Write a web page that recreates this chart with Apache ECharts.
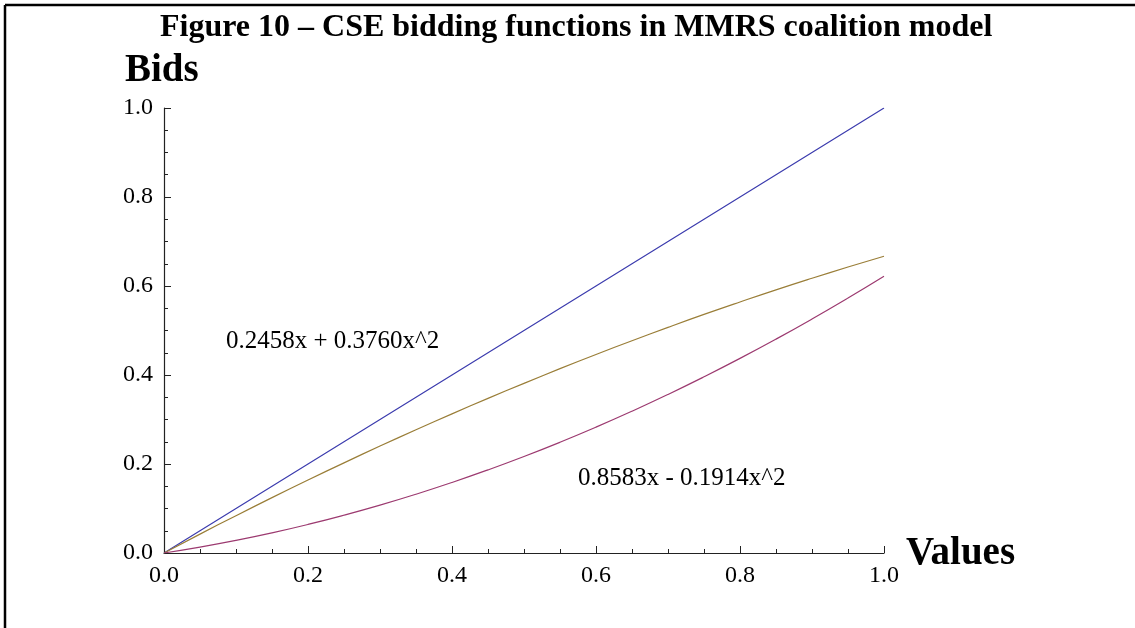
<!DOCTYPE html>
<html>
<head>
<meta charset="utf-8">
<title>CSE bidding functions</title>
<script src="https://cdn.jsdelivr.net/npm/echarts@6/dist/echarts.min.js"></script>
<style>
  html, body { margin: 0; padding: 0; background: #fff; }
  #chart { width: 1135px; height: 628px; }
</style>
</head>
<body>
<div id="chart"></div>
<script>
// Bidder values (x) and the bid each strategy submits at that value
const values = [0, 0.05, 0.1, 0.15, 0.2, 0.25, 0.3, 0.35, 0.4, 0.45, 0.5,
                0.55, 0.6, 0.65, 0.7, 0.75, 0.8, 0.85, 0.9, 0.95, 1.0];
// truthful bid, b = x
const bidsTruthful = [0, 0.05, 0.1, 0.15, 0.2, 0.25, 0.3, 0.35, 0.4, 0.45, 0.5,
                      0.55, 0.6, 0.65, 0.7, 0.75, 0.8, 0.85, 0.9, 0.95, 1.0];
// 0.8583x - 0.1914x^2
const bidsConcave = [0, 0.0424, 0.0839, 0.1244, 0.1640, 0.2026, 0.2403, 0.2770, 0.3127, 0.3475, 0.3813,
                     0.4142, 0.4461, 0.4770, 0.5070, 0.5361, 0.5641, 0.5913, 0.6174, 0.6426, 0.6669];
// 0.2458x + 0.3760x^2
const bidsConvex = [0, 0.0132, 0.0283, 0.0453, 0.0642, 0.0850, 0.1076, 0.1321, 0.1585, 0.1868, 0.2169,
                    0.2489, 0.2828, 0.3186, 0.3563, 0.3959, 0.4373, 0.4806, 0.5258, 0.5729, 0.6218];

const titleText = 'Figure 10 \u2013 CSE bidding functions in MMRS coalition model';
const yName = 'Bids';
const xName = 'Values';
const labelConvex = '0.2458x + 0.3760x^2';
const labelConcave = '0.8583x - 0.1914x^2';

const serif = '"Liberation Serif", "Times New Roman", serif';
const pair = arr => values.map((v, i) => [v, arr[i]]);

const chart = echarts.init(document.getElementById('chart'), null, { renderer: 'canvas' });

const axisCommon = {
  type: 'value',
  min: 0,
  max: 1,
  interval: 0.2,
  axisLine: { show: true, onZero: false, lineStyle: { color: '#222', width: 1.2 } },
  axisTick: { show: true, inside: true, length: 7, lineStyle: { color: '#222', width: 1 } },
  minorTick: { show: true, splitNumber: 4, length: 4, lineStyle: { color: '#222', width: 1 } },
  splitLine: { show: false },
  axisLabel: {
    color: '#000',
    fontFamily: serif,
    fontSize: 24,
    margin: 11,
    formatter: v => v.toFixed(1)
  }
};

chart.setOption({
  animation: false,
  backgroundColor: '#fff',
  grid: { left: 164, right: 251, top: 108, bottom: 75, containLabel: false },
  xAxis: Object.assign({}, axisCommon),
  yAxis: Object.assign({}, axisCommon),
  series: [
    {
      type: 'line', data: pair(bidsTruthful), showSymbol: false, smooth: false,
      lineStyle: { color: '#3c3cae', width: 1.2 }
    },
    {
      type: 'line', data: pair(bidsConcave), showSymbol: false, smooth: true,
      lineStyle: { color: '#9a7e38', width: 1.2 }
    },
    {
      type: 'line', data: pair(bidsConvex), showSymbol: false, smooth: true,
      lineStyle: { color: '#9c3a70', width: 1.2 }
    }
  ],
  graphic: [
    // frame edges
    { type: 'line', shape: { x1: 5, y1: 5, x2: 1135, y2: 5 }, style: { stroke: '#000', lineWidth: 2.5 } },
    { type: 'line', shape: { x1: 5, y1: 5, x2: 5, y2: 628 }, style: { stroke: '#000', lineWidth: 2.5 } },
    {
      type: 'text', left: 160, top: 12,
      style: { text: titleText, font: 'bold 32px ' + serif, fill: '#000' }
    },
    {
      type: 'text', left: 125, top: 51,
      style: { text: yName, font: 'bold 39px ' + serif, fill: '#000' }
    },
    {
      type: 'text', left: 906, top: 534,
      style: { text: xName, font: 'bold 39px ' + serif, fill: '#000' }
    },
    {
      type: 'text', left: 226, top: 329,
      style: { text: labelConvex, font: '25px ' + serif, fill: '#000' }
    },
    {
      type: 'text', left: 578, top: 466,
      style: { text: labelConcave, font: '25px ' + serif, fill: '#000' }
    }
  ]
});
</script>
</body>
</html>
